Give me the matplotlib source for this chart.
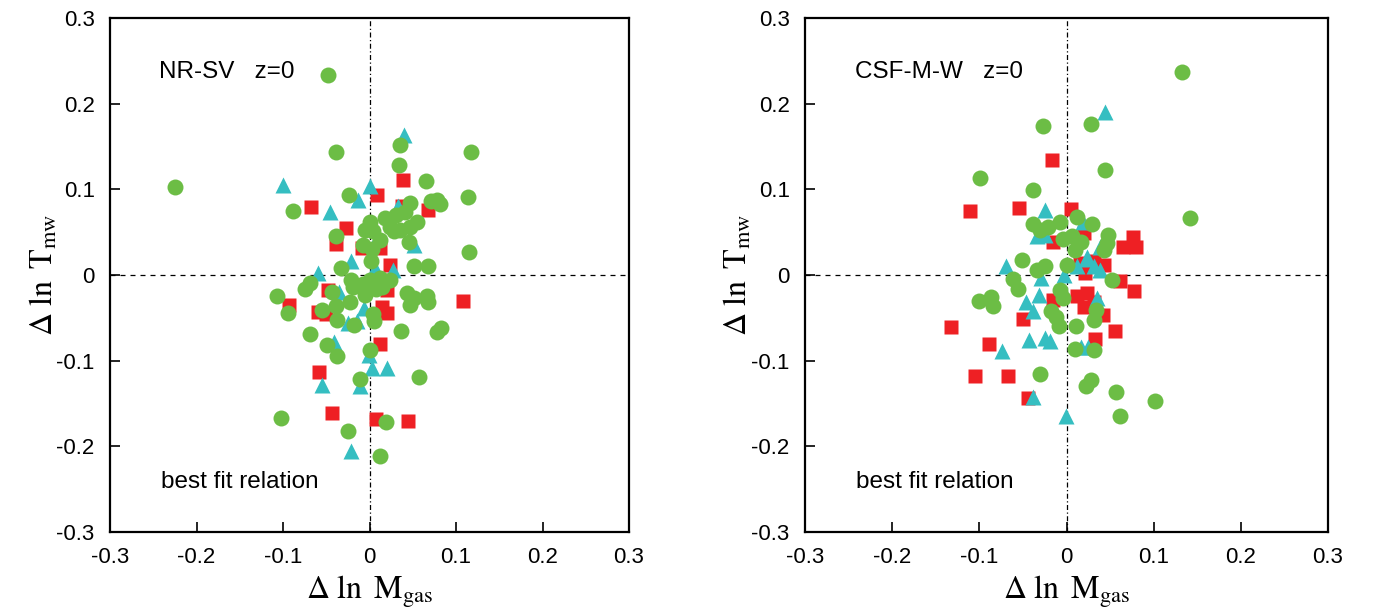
import matplotlib
matplotlib.use("Agg")
import matplotlib.pyplot as plt

plt.rcParams["font.family"] = ["Liberation Sans", "DejaVu Sans"]
plt.rcParams["mathtext.fontset"] = "stix"
plt.rcParams["axes.unicode_minus"] = False

# NR-SV panel
nr_green_x = [-0.048, 0.035, -0.039, 0.117, 0.034, 0.065, -0.024, 0.114, 0.071, 0.078,
              0.082, -0.089, 0.047, 0.018, 0.031, 0.041, 0.055, 0.047, 0.024, 0.028,
              0.035, 0.046, 0.001, -0.005, 0.004, -0.007, 0.003, 0.012, -0.039, 0.115,
              0.002, -0.033, 0.051, 0.068, -0.225, -0.069, -0.074, -0.107, -0.094, -0.043,
              -0.021, -0.019, -0.007, 0.001, 0.012, 0.008, -0.005, 0.024, 0.014, 0.043,
              0.051, 0.047, 0.066, 0.068, -0.023, -0.039, -0.055, 0.004, 0.005, -0.037,
              -0.018, 0.036, 0.078, 0.083, -0.069, -0.049, 0.000, -0.037, -0.011, 0.057,
              -0.102, 0.019, -0.025, 0.012]
nr_green_y = [0.233, 0.152, 0.144, 0.144, 0.128, 0.110, 0.093, 0.091, 0.086, 0.088,
              0.083, 0.075, 0.084, 0.066, 0.070, 0.073, 0.062, 0.056, 0.056, 0.051,
              0.052, 0.039, 0.062, 0.052, 0.051, 0.035, 0.030, 0.041, 0.046, 0.027,
              0.016, 0.008, 0.010, 0.010, 0.103, -0.009, -0.016, -0.025, -0.044, -0.020,
              -0.006, -0.014, -0.010, -0.006, -0.004, -0.016, -0.023, -0.006, -0.014, -0.021,
              -0.027, -0.035, -0.025, -0.031, -0.032, -0.036, -0.041, -0.045, -0.054, -0.053,
              -0.058, -0.065, -0.066, -0.062, -0.069, -0.082, -0.087, -0.095, -0.121, -0.119,
              -0.167, -0.172, -0.182, -0.211]
nr_red_x = [0.039, 0.009, -0.068, 0.068, 0.037, -0.027, -0.039, 0.012, -0.009, 0.024,
            -0.048, -0.093, -0.059, -0.050, 0.020, 0.108, 0.014, 0.020, 0.012, -0.058,
            -0.043, 0.007, 0.044]
nr_red_y = [0.111, 0.093, 0.079, 0.076, 0.080, 0.055, 0.036, 0.031, 0.031, 0.012,
            -0.018, -0.035, -0.043, -0.045, -0.017, -0.030, -0.037, -0.044, -0.080, -0.113,
            -0.161, -0.168, -0.171]
nr_cyan_x = [0.040, -0.100, 0.001, -0.013, -0.046, 0.033, 0.009, 0.051, -0.021, -0.059,
             0.027, 0.006, -0.035, -0.006, -0.025, -0.015, -0.041, -0.001, 0.003, 0.020,
             -0.055, -0.011, -0.021]
nr_cyan_y = [0.163, 0.105, 0.104, 0.088, 0.073, 0.080, 0.043, 0.035, 0.016, 0.002,
             0.006, 0.008, -0.020, -0.039, -0.056, -0.054, -0.078, -0.093, -0.108, -0.109,
             -0.128, -0.130, -0.205]

# CSF-M-W panel
csf_green_x = [0.133, -0.027, 0.028, 0.044, -0.099, -0.038, 0.142, 0.012, 0.029, -0.007,
               -0.038, -0.030, -0.021, -0.004, 0.006, 0.017, 0.010, 0.048, 0.046, 0.043,
               -0.051, -0.034, -0.025, 0.000, -0.061, 0.052, -0.056, -0.100, -0.087, -0.084,
               -0.007, -0.004, 0.034, 0.032, -0.018, -0.012, -0.009, 0.011, 0.010, 0.031,
               -0.030, 0.022, 0.028, 0.057, 0.101, 0.061]
csf_green_y = [0.237, 0.174, 0.176, 0.123, 0.113, 0.099, 0.066, 0.068, 0.060, 0.062,
               0.060, 0.053, 0.056, 0.042, 0.045, 0.039, 0.029, 0.047, 0.037, 0.029,
               0.018, 0.006, 0.011, 0.012, -0.005, -0.006, -0.016, -0.030, -0.026, -0.036,
               -0.017, -0.027, -0.041, -0.052, -0.042, -0.049, -0.060, -0.060, -0.086, -0.088,
               -0.116, -0.130, -0.123, -0.137, -0.147, -0.165]
csf_red_x = [-0.017, -0.111, -0.054, 0.005, -0.015, 0.020, 0.076, 0.080, 0.065, 0.015,
             0.031, 0.043, 0.023, 0.021, 0.061, 0.077, -0.015, 0.012, 0.023, 0.020,
             0.031, 0.042, -0.050, -0.132, 0.056, -0.089, 0.033, -0.105, -0.067, -0.044]
csf_red_y = [0.134, 0.075, 0.078, 0.077, 0.039, 0.049, 0.044, 0.033, 0.033, 0.014,
             0.016, 0.012, 0.010, 0.002, -0.007, -0.019, -0.029, -0.025, -0.021, -0.037,
             -0.031, -0.047, -0.051, -0.061, -0.065, -0.081, -0.075, -0.118, -0.118, -0.144]
csf_cyan_x = [0.044, -0.025, 0.019, -0.034, -0.025, 0.038, -0.069, 0.012, 0.024, 0.031,
              0.039, 0.023, -0.029, -0.003, -0.046, -0.032, -0.038, 0.035, -0.074, -0.043,
              -0.025, -0.019, 0.017, 0.025, -0.039, -0.001]
csf_cyan_y = [0.190, 0.076, 0.062, 0.045, 0.047, 0.033, 0.011, 0.010, 0.019, 0.011,
              0.006, 0.021, -0.004, 0.000, -0.031, -0.023, -0.042, -0.027, -0.089, -0.076,
              -0.074, -0.077, -0.084, -0.084, -0.142, -0.165]

ticks = [-0.3, -0.2, -0.1, 0, 0.1, 0.2, 0.3]
tick_labels = ["-0.3", "-0.2", "-0.1", "0", "0.1", "0.2", "0.3"]

GREEN = "#6cbd45"
RED = "#ee2024"
CYAN = "#35bec1"

fig = plt.figure(figsize=(13.78, 6.12), dpi=100)
ax1 = fig.add_axes([110 / 1378, 80 / 612, 519 / 1378, 514 / 612])
ax2 = fig.add_axes([805 / 1378, 80 / 612, 523 / 1378, 514 / 612])

panels = [
    (ax1, "NR-SV   z=0", nr_green_x, nr_green_y, nr_red_x, nr_red_y, nr_cyan_x, nr_cyan_y),
    (ax2, "CSF-M-W   z=0", csf_green_x, csf_green_y, csf_red_x, csf_red_y, csf_cyan_x, csf_cyan_y),
]

for ax, name, gx, gy, rx, ry, cx, cy in panels:
    # zero lines
    ax.axhline(0, color="black", lw=0.9, ls=(0, (4, 4)), zorder=1)
    ax.axvline(0, color="black", lw=0.9, ls=(0, (4, 2, 1, 2)), zorder=1)

    ax.plot(rx, ry, "s", color=RED, ms=9.5, mec="none", zorder=2)
    ax.plot(cx, cy, "^", color=CYAN, ms=11, mec="none", zorder=3)
    ax.plot(gx, gy, "o", color=GREEN, ms=11.5, mec="none", zorder=4)

    ax.text(-0.243, 0.237, name, fontsize=17.5, va="center", ha="left")
    ax.text(-0.241, -0.242, "best fit relation", fontsize=17.5, va="center", ha="left")

    ax.set_xlim(-0.3, 0.3)
    ax.set_ylim(-0.3, 0.3)
    ax.set_xticks(ticks)
    ax.set_xticklabels(tick_labels)
    ax.set_yticks(ticks)
    ax.set_yticklabels(tick_labels)
    ax.tick_params(direction="in", length=7, width=1.2, labelsize=16, pad=11)
    for s in ax.spines.values():
        s.set_linewidth(1.6)

    ax.set_xlabel(r"$\Delta\ \ln\ \mathrm{M}_{\mathrm{gas}}$", fontsize=23, labelpad=4)
    ax.set_ylabel(r"$\Delta\ \ln\ \mathrm{T}_{\mathrm{mw}}$", fontsize=23)
    ax.yaxis.set_label_coords(-0.097, 0.5)

fig.savefig("out.png", dpi=100)
